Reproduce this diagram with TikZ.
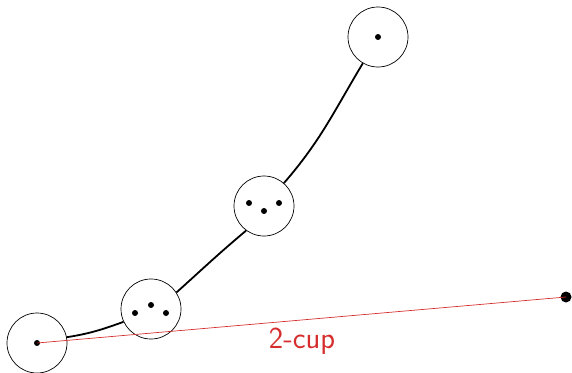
\documentclass[tikz,border=0pt]{standalone}
\usepackage{fontspec}
\begin{document}
\begin{tikzpicture}[x=1pt,y=-1pt,
  ball/.style={circle,draw=black,line width=0.7pt,minimum size=60pt,inner sep=0pt},
  dot/.style={circle,fill=black,inner sep=0pt,minimum size=6pt},
  bigdot/.style={circle,fill=black,inner sep=0pt,minimum size=11pt},
  path/.style={line width=1.8pt},
  cup/.style={draw={rgb,255:red,214;green,45;blue,45},line width=0.7pt},
  lbl/.style={text={rgb,255:red,214;green,45;blue,45},font=\sffamily\fontsize{30.5}{36}\selectfont}]
\useasboundingbox (0,0) rectangle (572,372);
\node[ball] (c1) at (37,343) {};
\node[ball] (c2) at (151,309) {};
\node[ball] (c3) at (264,206) {};
\node[ball] (c4) at (378,37) {};
\node[dot] (d1) at (37,343) {};
\node[dot] (d2a) at (135,313) {};
\node[dot] (d2b) at (151,305) {};
\node[dot] (d2c) at (166,313) {};
\node[dot] (d3a) at (249,203) {};
\node[dot] (d3b) at (264,211) {};
\node[dot] (d3c) at (279,203) {};
\node[dot] (d4) at (378,37) {};
\node[bigdot] (e) at (566,297) {};
\draw[path] (c1.11) to[out=9,in=200] (c2.205);
\draw[path] (c2.33) to[out=42,in=220] (c3.234);
\draw[path] (c3.49) to[out=49,in=239] (c4.240);
\draw[cup] (d1.center) -- (e.center);
\node[lbl] (t) at (302,341) {2-cup};
\end{tikzpicture}
\end{document}
